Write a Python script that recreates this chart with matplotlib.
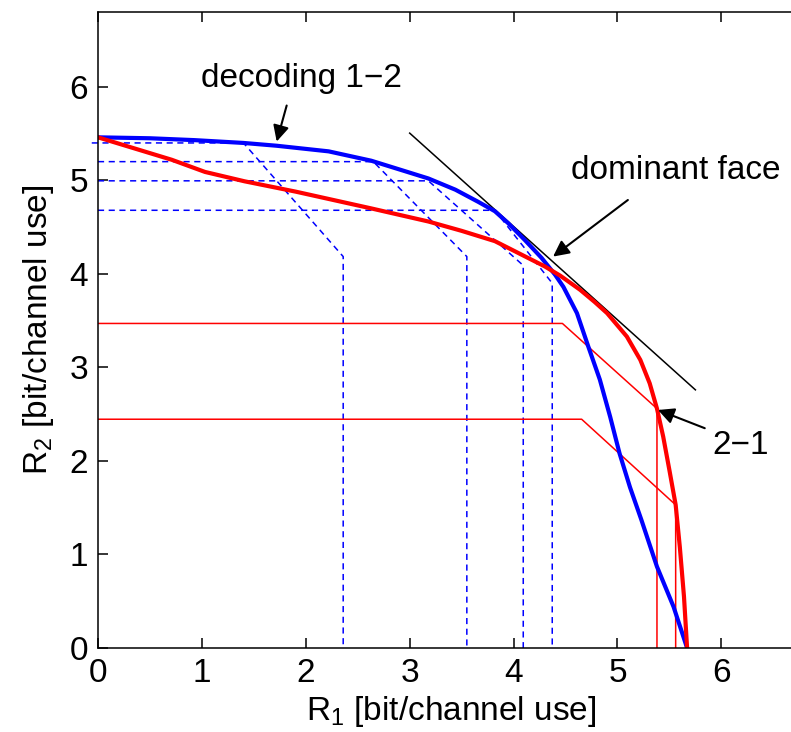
import numpy as np
import matplotlib
matplotlib.use("Agg")
import matplotlib.pyplot as plt

plt.rcParams['font.family'] = ['Liberation Sans', 'DejaVu Sans']
plt.rcParams['mathtext.fontset'] = 'custom'
plt.rcParams['mathtext.rm'] = 'Liberation Sans'
plt.rcParams['mathtext.default'] = 'regular'

# decoding order 1-2 (blue) boundary
blue_r1 = [0.0, 0.50, 0.93, 1.40, 1.72, 2.22, 2.63, 2.92, 3.18, 3.44, 3.66, 3.82, 3.95, 4.11,
           4.27, 4.40, 4.48, 4.61, 4.72, 4.83, 4.93, 5.02, 5.12, 5.23, 5.38, 5.54, 5.67]
blue_r2 = [5.46, 5.45, 5.43, 5.40, 5.37, 5.31, 5.21, 5.11, 5.02, 4.90, 4.77, 4.67, 4.54, 4.36,
           4.17, 3.99, 3.86, 3.58, 3.22, 2.87, 2.47, 2.08, 1.72, 1.37, 0.87, 0.44, 0.0]

# decoding order 2-1 (red) boundary
red_r1 = [0.0, 0.71, 1.03, 1.41, 1.90, 2.63, 3.18, 3.50, 3.82, 4.14, 4.30, 4.45, 4.64, 4.78,
          4.90, 5.09, 5.22, 5.31, 5.38, 5.44, 5.50, 5.56, 5.60, 5.64, 5.67]
red_r2 = [5.46, 5.22, 5.09, 4.99, 4.88, 4.70, 4.56, 4.46, 4.35, 4.17, 4.08, 3.98, 3.83, 3.70,
          3.58, 3.33, 3.08, 2.83, 2.56, 2.26, 1.90, 1.53, 1.08, 0.55, 0.0]

# dashed blue rate regions: level, knee on the curve, bottom corner
dash_h = [5.40, 5.20, 4.995, 4.68]
dash_x0 = [-0.06, 0.0, 0.0, 0.0]
dash_knee = [1.40, 2.65, 3.18, 3.82]
dash_vx = [2.36, 3.55, 4.093, 4.372]
dash_vy = [4.185, 4.185, 4.09, 3.90]

# thin red rate regions
red_h = [3.47, 2.446]
red_knee = [4.47, 4.655]
red_vx = [5.38, 5.56]
red_vy = [2.56, 1.53]

# dominant face line
face_r1 = [3.0, 5.75]
face_r2 = [5.505, 2.76]

fig = plt.figure(figsize=(7.91, 7.32), dpi=100)
ax = fig.add_axes([98 / 791, 84 / 732, 706.5 / 791, 636 / 732])

for h, x0, k, vx, vy in zip(dash_h, dash_x0, dash_knee, dash_vx, dash_vy):
    ax.plot([x0, k, vx, vx], [h, h, vy, 0], color='blue', lw=1.1,
            dashes=(4, 3), clip_on=False)

for h, k, vx, vy in zip(red_h, red_knee, red_vx, red_vy):
    ax.plot([0, k, vx, vx], [h, h, vy, 0], color='red', lw=1.1)

ax.plot(face_r1, face_r2, color='black', lw=1.1)
ax.plot(blue_r1, blue_r2, color='blue', lw=3, solid_joinstyle='round')
ax.plot(red_r1, red_r2, color='red', lw=3, solid_joinstyle='round')

fs = 24
arrow = dict(arrowstyle='-|>', color='black', lw=1.5, mutation_scale=24,
             shrinkA=0, shrinkB=0)
ax.text(1.96, 6.09, 'decoding 1\u22122', fontsize=fs, ha='center', va='center')
ax.annotate('', xy=(1.72, 5.415), xytext=(1.816, 5.80), arrowprops=arrow)
ax.text(5.56, 5.11, 'dominant face', fontsize=fs, ha='center', va='center')
ax.annotate('', xy=(4.38, 4.185), xytext=(5.10, 4.79), arrowprops=arrow)
ax.text(6.19, 2.17, '2\u22121', fontsize=fs, ha='center', va='center')
ax.annotate('', xy=(5.39, 2.545), xytext=(5.84, 2.35), arrowprops=arrow)

ax.set_xlim(0, 6.8)
ax.set_ylim(0, 6.8)
ax.set_xticks(range(7))
ax.set_yticks(range(7))
ax.tick_params(direction='in', length=7, width=1.1, labelsize=fs, pad=7,
               top=True, right=True)
for s in ax.spines.values():
    s.set_linewidth(1.1)
ax.set_xlabel('R$_1$ [bit/channel use]', fontsize=fs, labelpad=4)
ax.set_ylabel('R$_2$ [bit/channel use]', fontsize=fs, labelpad=10)

fig.savefig('out.png', dpi=100)
